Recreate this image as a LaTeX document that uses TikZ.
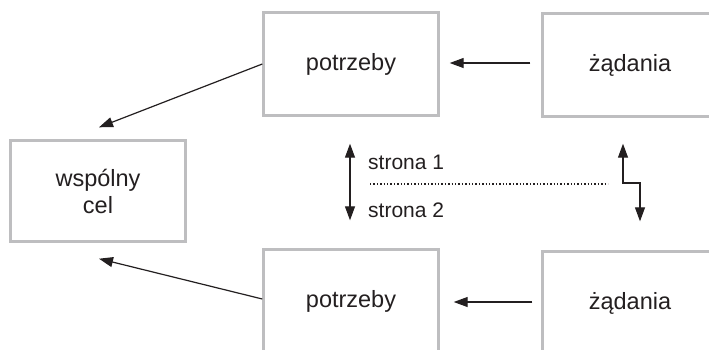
\documentclass[tikz,border=0pt]{standalone}
\usepackage{fontspec}
\setmainfont{Liberation Sans}
\usetikzlibrary{arrows.meta}
\definecolor{boxgray}{RGB}{190,190,192}
\definecolor{ink}{RGB}{35,31,32}
\tikzset{
  box/.style={draw=boxgray, line width=2.4pt, fill=white, minimum width=175pt, minimum height=103pt, inner sep=0pt, align=center, text=ink, font=\fontsize{23.5}{27}\selectfont},
  arr/.style={draw=ink, line width=1.2pt, -{Triangle[length=14pt,width=10pt]}},
  dbl/.style={draw=ink, line width=1.2pt, {Triangle[length=14pt,width=10pt]}-{Triangle[length=14pt,width=10pt]}},
  lbl/.style={text=ink, font=\fontsize{21}{24}\selectfont, inner sep=0pt, anchor=west}
}
\begin{document}
\begin{tikzpicture}[x=1pt,y=-1pt]
\useasboundingbox (0,0) rectangle (709,349);
\clip (0,0) rectangle (709,349);
\fill[white] (0,0) rectangle (709,349);
\node[box] (p1) at (351,64) {potrzeby};
\node[box] (z1) at (630,65) {żądania};
\node[box, minimum height=101pt] (w) at (98,191) {wspólny\\cel};
\node[box] (p2) at (351,301) {potrzeby};
\node[box] (z2) at (630,303) {żądania};
% horizontal arrows
\draw[arr] ([xshift=-11pt,yshift=2pt]z1.west) -- ([xshift=10pt,yshift=1pt]p1.east);
\draw[arr] ([xshift=-9pt,yshift=1pt]z2.west) -- ([xshift=14pt,yshift=-1pt]p2.east);
% diagonal arrows to common goal
\draw[arr] (p1.west) -- ([xshift=1pt,yshift=12pt]w.north);
\draw[arr] ([yshift=2pt]p2.west) -- ([xshift=1pt,yshift=-16pt]w.south);
% vertical double arrow
\draw[dbl] ([xshift=-1pt,yshift=-27pt]p1.south) -- ([xshift=-1pt,yshift=28pt]p2.north);
% stepped double arrow
\coordinate (s1) at ([xshift=-7pt,yshift=-26pt]z1.south);
\coordinate (s2) at ([xshift=10pt,yshift=29pt]z2.north);
\draw[dbl] (s1) |- (640,183) -- (s2);
% dotted separator
\coordinate (d1) at (370,184);
\coordinate (d2) at (608,184);
\draw[ink, line width=1.4pt, dash pattern=on 1.4pt off 2pt] (d1) -- (d2);
\node[lbl] (t1) at (368,162) {strona 1};
\node[lbl] (t2) at (368,210) {strona 2};
\end{tikzpicture}
\end{document}
